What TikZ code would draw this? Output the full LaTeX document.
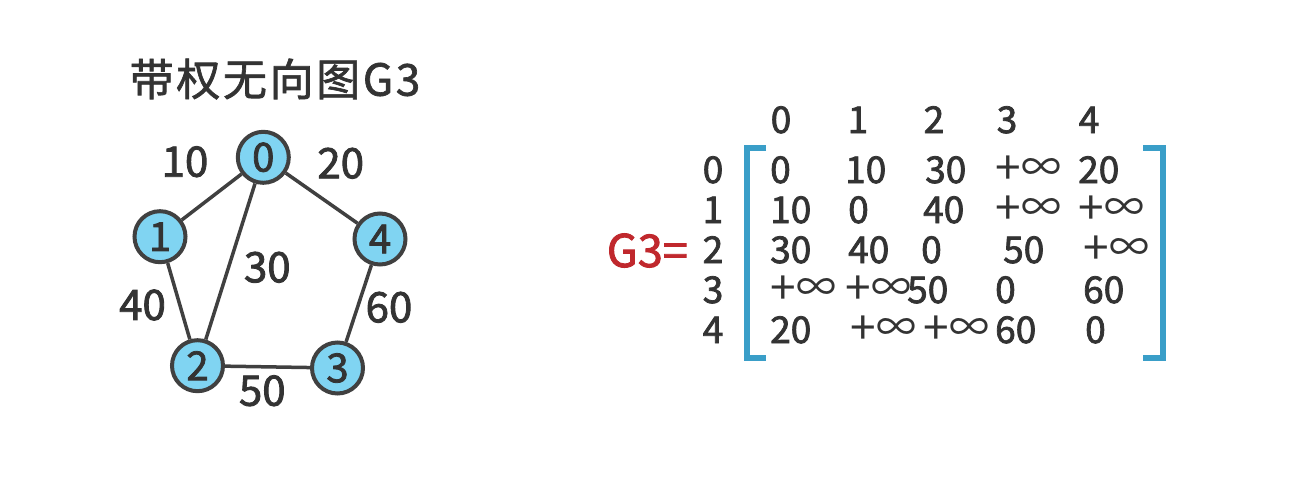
\documentclass[tikz,border=0pt]{standalone}
\usepackage{fontspec}
\setmainfont{Noto Sans CJK SC}[FakeBold=2]
\newfontfamily\titlefont{Noto Sans CJK SC}[LetterSpace=6,FakeBold=1.5]
\newfontfamily\symfont{Noto Sans CJK SC}
\definecolor{txt}{RGB}{51,51,51}
\definecolor{edgec}{RGB}{64,64,64}
\definecolor{nodec}{RGB}{128,212,242}
\definecolor{brk}{RGB}{58,158,200}
\definecolor{redc}{RGB}{192,40,45}
\newcommand{\pinf}{{\symfont\fontsize{46}{46}\selectfont\raisebox{-1.5pt}{+}}\kern0.5pt\makebox[36pt][l]{\symfont\fontsize{40}{40}\selectfont\raisebox{1.5pt}{∞}}}
\begin{document}
\begin{tikzpicture}[x=1pt,y=-1pt,
  vert/.style={circle, draw=edgec, line width=4pt, fill=nodec, minimum size=51pt, inner sep=0pt, font=\fontsize{40}{40}\selectfont, text=txt},
  edge/.style={draw=edgec, line width=3.5pt},
  wlab/.style={inner sep=0pt, font=\fontsize{42}{42}\selectfont, text=txt},
  cell/.style={anchor=base west, inner sep=0pt, font=\fontsize{37}{37}\selectfont, text=txt},
  lbl/.style={anchor=base, inner sep=0pt, font=\fontsize{37}{37}\selectfont, text=txt},
  bracket/.style={draw=brk, line width=6pt}]
\useasboundingbox[fill=white] (0,0) rectangle (1303,482);
% title
\node[inner sep=0pt, font=\titlefont\fontsize{44}{44}\selectfont, text=txt] (title) at (275,79) {带权无向图G3};
% graph
\node[vert] (v0) at (263.3,157.3) {0};
\node[vert] (v1) at (160,236.7) {1};
\node[vert] (v4) at (380,239) {4};
\node[vert] (v2) at (197.5,365.7) {2};
\node[vert] (v3) at (337.5,368) {3};
\draw[edge] (v0) -- (v1);
\draw[edge] (v0) -- (v2);
\draw[edge] (v0) -- (v4);
\draw[edge] (v1) -- (v2);
\draw[edge] (v2) -- (v3);
\draw[edge] (v3) -- (v4);
\node[wlab] (w01) at (185,161.7) {10};
\node[wlab] (w04) at (340.7,163.3) {20};
\node[wlab] (w02) at (267.3,267.3) {30};
\node[wlab] (w12) at (142.5,305) {40};
\node[wlab] (w34) at (389,307.3) {60};
\node[wlab] (w23) at (262.3,390.7) {50};
% matrix
\node[anchor=base east, inner sep=0pt, font=\fontsize{45}{45}\selectfont, text=redc] (g3) at (688,267) {G3=};
\foreach \i/\x in {0/781,1/858,2/934,3/1007,4/1089}{
  \node[lbl] (h\i) at (\x,133) {\i};
}
\foreach \i/\y in {0/183,1/223,2/263,3/303,4/343}{
  \node[lbl] (r\i) at (713,\y) {\i};
}
\draw[bracket] (766,148) -- (747,148) -- (747,358) -- (766,358);
\draw[bracket] (1143,148) -- (1163,148) -- (1163,358) -- (1143,358);
% row 0
\node[cell] (c00) at (770,183) {0};
\node[cell] (c01) at (845,183) {10};
\node[cell] (c02) at (925,183) {30};
\node[cell] (c03) at (995,183) {\pinf};
\node[cell] (c04) at (1078,183) {20};
% row 1
\node[cell] (c10) at (770,223) {10};
\node[cell] (c11) at (848,223) {0};
\node[cell] (c12) at (923,223) {40};
\node[cell] (c13) at (995,223) {\pinf};
\node[cell] (c14) at (1078,223) {\pinf};
% row 2
\node[cell] (c20) at (770,263) {30};
\node[cell] (c21) at (848,263) {40};
\node[cell] (c22) at (921,263) {0};
\node[cell] (c23) at (1003,263) {50};
\node[cell] (c24) at (1083,263) {\pinf};
% row 3
\node[cell] (c30) at (770,303) {\pinf};
\node[cell] (c31) at (845,303) {\pinf};
\node[cell] (c32) at (907,303) {50};
\node[cell] (c33) at (995,303) {0};
\node[cell] (c34) at (1083,303) {60};
% row 4
\node[cell] (c40) at (770,343) {20};
\node[cell] (c41) at (850,343) {\pinf};
\node[cell] (c42) at (923,343) {\pinf};
\node[cell] (c43) at (995,343) {60};
\node[cell] (c44) at (1085,343) {0};
\end{tikzpicture}
\end{document}
